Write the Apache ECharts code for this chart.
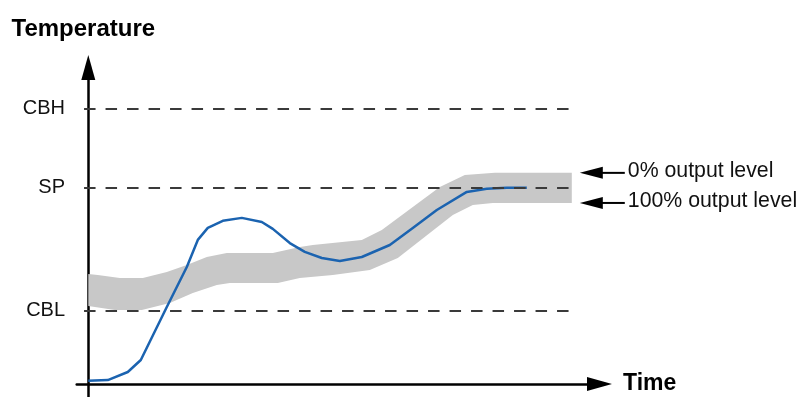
<!DOCTYPE html>
<html><head><meta charset="utf-8">
<script src="https://cdn.jsdelivr.net/npm/echarts@6/dist/echarts.min.js"></script>
<style>html,body{margin:0;padding:0;background:#fff}#c{width:802px;height:397px}</style>
</head><body><div id="c"></div>
<script>
// Process value (blue curve)
const curveX = [0, 3.9, 7.9, 10.5, 15.7, 19.7, 21.9, 23.9, 26.9, 30.7, 34.7, 36.9, 40.3, 43.3, 46.7, 50.3, 54.7, 60.3, 64.9, 69.7, 75.7, 79.7, 83.7, 87.7];
const curveY = [1.7, 2.0, 6.1, 12.2, 39.2, 59.5, 73.3, 79.4, 83.0, 84.5, 82.4, 78.9, 71.7, 67.2, 64.1, 62.6, 64.6, 70.7, 79.4, 88.5, 97.7, 99.3, 99.8, 99.8];
// Proportional band (grey): upper edge = 0% output level, lower edge = 100% output level
const bandUpperX = [0, 1.9, 6.3, 10.9, 15.7, 19.7, 23.7, 27.7, 36.9, 42.3, 44.9, 54.7, 58.7, 70.3, 75.3, 81.3, 96.7];
const bandUpperY = [56.0, 55.5, 53.9, 53.9, 57.0, 60.5, 64.6, 66.6, 66.6, 69.7, 70.7, 73.3, 78.4, 100.2, 106.3, 107.4, 107.4];
const bandLowerX = [0, 5.3, 10.7, 16.3, 20.9, 25.7, 28.3, 37.9, 42.3, 48.9, 56.3, 61.9, 72.9, 76.9, 80.9, 96.7];
const bandLowerY = [39.7, 37.6, 37.6, 41.2, 46.3, 50.4, 51.4, 51.4, 53.9, 55.5, 58.0, 64.1, 86.0, 91.1, 92.1, 92.1];
// Reference levels
const refNames = ['CBH', 'SP', 'CBL'];
const refValues = [140, 100, 37.4];
const refStartX = -0.85, refEndX = 96.7;
// Annotations and axis titles
const outputLabels = ['0% output level', '100% output level'];
const yTitle = 'Temperature';
const xTitle = 'Time';

const FONT = '"Liberation Sans", Arial, Helvetica, sans-serif';
const chart = echarts.init(document.getElementById('c'), null, {renderer: 'canvas'});

const bandPoly = [];
for (let i = 0; i < bandUpperX.length; i++) bandPoly.push([bandUpperX[i], bandUpperY[i]]);
for (let i = bandLowerX.length - 1; i >= 0; i--) bandPoly.push([bandLowerX[i], bandLowerY[i]]);

chart.setOption({
  animation: false,
  backgroundColor: '#fff',
  grid: {left: 76.7, right: 202.5, top: 67.5, bottom: 0},
  xAxis: {
    type: 'value', min: -2.32, max: 102.24,
    splitLine: {show: false}, axisTick: {show: false}, axisLabel: {show: false},
    axisLine: {show: true, onZero: true, symbol: ['none', 'triangle'], symbolSize: [14, 25],
      lineStyle: {color: '#000', width: 2.5}},
    name: xTitle, nameLocation: 'end', nameGap: 23.5,
    nameTextStyle: {fontFamily: FONT, fontWeight: 'bold', fontSize: 23, color: '#000', verticalAlign: 'middle', padding: [0, 0, 3, 0]}
  },
  yAxis: {
    type: 'value', min: -6.61, max: 161.0,
    splitLine: {show: false}, axisTick: {show: false}, axisLabel: {show: false},
    axisLine: {show: true, onZero: true, symbol: ['none', 'triangle'], symbolSize: [14, 25],
      lineStyle: {color: '#000', width: 2.5}},
    name: yTitle, nameLocation: 'end', nameGap: 26,
    nameTextStyle: {fontFamily: FONT, fontWeight: 'bold', fontSize: 24, color: '#000', align: 'center', padding: [0, 10, 0, 0]}
  },
  series: [
    {
      type: 'custom', name: 'band', z: 1,
      data: [0],
      renderItem: function (params, api) {
        const pts = bandPoly.map(p => api.coord(p));
        return {type: 'polygon', shape: {points: pts}, style: {fill: '#c8c8c8'}};
      }
    },
    {
      type: 'line', name: 'refs', z: 2, data: [], symbol: 'none',
      markLine: {
        silent: true, symbol: ['none', 'none'], animation: false,
        lineStyle: {color: '#3a3a3a', width: 1.8, type: [11.5, 10]},
        label: {show: true, position: 'start', distance: 19, formatter: '{b}',
          fontFamily: FONT, fontSize: 20, color: '#111'},
        data: refNames.map((n, i) => [
          {name: n, coord: [refStartX, refValues[i]]},
          {coord: [refEndX, refValues[i]]}
        ])
      }
    },
    {
      type: 'line', name: 'PV', z: 3,
      data: curveX.map((x, i) => [x, curveY[i]]),
      symbol: 'none', smooth: false,
      lineStyle: {color: '#1b63b0', width: 2.5}
    }
  ]
});

// Output-level annotations anchored to the band's right end
const ends = [
  [bandUpperX[bandUpperX.length - 1], bandUpperY[bandUpperY.length - 1]],
  [bandLowerX[bandLowerX.length - 1], bandLowerY[bandLowerY.length - 1]]
];
const graphics = [];
ends.forEach((e, i) => {
  const p = chart.convertToPixel({gridIndex: 0}, e);
  const y = p[1];
  const tip = p[0] + 8;
  graphics.push({type: 'polygon', shape: {points: [[tip, y], [tip + 23, y - 6], [tip + 23, y + 6]]}, style: {fill: '#000'}});
  graphics.push({type: 'line', shape: {x1: tip + 22, y1: y, x2: tip + 45, y2: y}, style: {stroke: '#000', lineWidth: 2}});
  graphics.push({type: 'text', x: tip + 48, y: y - 2, style: {text: outputLabels[i], font: '21.3px ' + FONT, fill: '#111', textVerticalAlign: 'middle', textAlign: 'left'}});
});
chart.setOption({graphic: graphics});
</script></body></html>
